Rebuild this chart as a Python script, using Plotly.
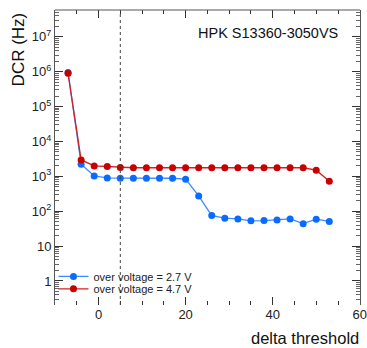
import plotly.graph_objects as go

x_vals = [-7, -4, -1, 2, 5, 8, 11, 14, 17, 20, 23, 26, 29, 32, 35, 38, 41, 44, 47, 50, 53]
dcr_27 = [9.5e5, 2230, 1030, 900, 885, 885, 885, 885, 880, 830, 274, 75, 63, 60, 53, 54, 56, 60, 44, 59, 51]
dcr_47 = [9.0e5, 2950, 1990, 1900, 1780, 1760, 1760, 1760, 1750, 1750, 1760, 1760, 1760, 1750, 1760, 1760, 1760, 1760, 1760, 1500, 724]
names = ["over voltage = 2.7 V", "over voltage = 4.7 V"]
ytick_vals = [1, 10, 100, 1e3, 1e4, 1e5, 1e6, 1e7]
ytick_text = ["1", "10", "10<sup>2</sup>", "10<sup>3</sup>", "10<sup>4</sup>",
              "10<sup>5</sup>", "10<sup>6</sup>", "10<sup>7</sup>"]
xtick_vals = [0, 20, 40, 60]
cut_x = 5

FONT = "Liberation Sans, Arial, sans-serif"
fig = go.Figure()
fig.add_trace(go.Scatter(x=x_vals, y=dcr_27, mode="lines+markers", name=names[0],
                         line=dict(color="#3d8bff", width=1.3),
                         marker=dict(color="#0a6cff", size=7), legend="legend"))
fig.add_trace(go.Scatter(x=x_vals, y=dcr_47, mode="lines+markers", name=names[1],
                         line=dict(color="#d42020", width=1.3),
                         marker=dict(color="#c80000", size=7), legend="legend2"))

fig.add_shape(type="line", xref="x", yref="paper", x0=cut_x, x1=cut_x, y0=0, y1=1,
              line=dict(color="#444", width=1, dash="dot"))
fig.add_shape(type="line", xref="paper", yref="paper", x0=0, x1=1, y0=1, y1=1,
              line=dict(color="#555", width=1))

fig.add_annotation(text="HPK S13360-3050VS", xref="paper", yref="paper", x=0.935, y=0.922,
                   xanchor="right", yanchor="middle", showarrow=False,
                   font=dict(family=FONT, size=14.5, color="#111"))
fig.add_annotation(text="DCR (Hz)", xref="paper", yref="paper", x=-0.12, y=1.0,
                   xanchor="center", yanchor="top", textangle=-90, showarrow=False,
                   font=dict(family=FONT, size=17, color="#111"))
fig.add_annotation(text="delta threshold", xref="paper", yref="paper", x=1.003, y=-0.075,
                   xanchor="right", yanchor="top", showarrow=False,
                   font=dict(family=FONT, size=16.5, color="#111"))

leg_common = dict(xanchor="left", yanchor="middle", bgcolor="rgba(0,0,0,0)",
                  font=dict(family=FONT, size=11, color="#222"), itemwidth=30)
fig.update_layout(
    width=367, height=348,
    margin=dict(l=55, r=7, t=10, b=43, autoexpand=False),
    paper_bgcolor="white", plot_bgcolor="white",
    font=dict(family=FONT, size=12, color="#222"),
    showlegend=True,
    legend=dict(x=-0.005, y=0.097, **leg_common),
    legend2=dict(x=-0.005, y=0.055, **leg_common),
    xaxis=dict(range=[-10, 60.05], tickvals=xtick_vals, ticks="inside", ticklen=8,
               tickcolor="#333", showline=False, mirror="ticks", showgrid=False,
               automargin=False, ticklabeloverflow="allow",
               zeroline=False, tickfont=dict(family=FONT, size=13, color="#222"),
               minor=dict(dtick=5, ticks="inside", ticklen=4, tickcolor="#333")),
    yaxis=dict(type="log", range=[-0.69, 7.77], tickvals=ytick_vals, ticktext=ytick_text,
               ticks="inside", ticklen=8, tickcolor="#333", showline=True,
               automargin=False,
               linecolor="#555", linewidth=1, mirror="ticks", showgrid=False,
               zeroline=False, tickfont=dict(family=FONT, size=13, color="#222"),
               minor=dict(dtick="D1", ticks="inside", ticklen=4, tickcolor="#666")),
)
fig.write_html("out.html", config={"displayModeBar": False},
               post_script="document.body.style.margin='0';document.body.style.overflow='hidden';")
